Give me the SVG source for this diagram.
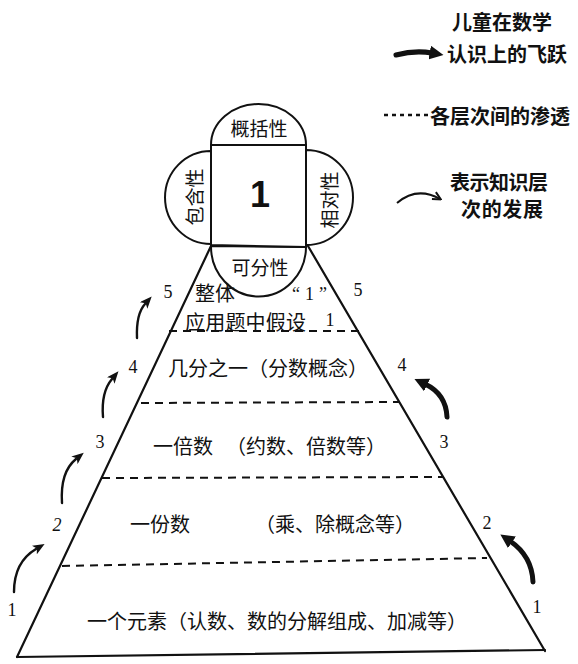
<svg xmlns="http://www.w3.org/2000/svg" width="578" height="664" viewBox="0 0 578 664">
<style>
.cjk{font-family:"Noto Sans CJK SC","Noto Sans CJK TC",sans-serif;fill:#111;}
.leg{font-weight:bold;font-size:20px;}
.row{font-size:20px;}
.num{font-family:"Liberation Serif",serif;font-size:18px;fill:#111;}
.edge{stroke:#111;stroke-width:2.2;fill:none;stroke-linecap:round;}
.lobe{stroke:#111;stroke-width:2;fill:#fff;}
.dash{stroke:#111;stroke-width:2;fill:none;stroke-dasharray:8 6;}
.thin{stroke:#111;stroke-width:2.4;fill:none;stroke-linecap:round;}
.thick{stroke:#111;stroke-width:5;fill:none;stroke-linecap:round;}
</style>
<defs>
<marker id="ah" viewBox="0 0 12 10" refX="2" refY="5" markerWidth="13" markerHeight="10" markerUnits="userSpaceOnUse" orient="auto">
<path d="M0,0 L12,5 L0,10 L3,5 Z" fill="#111"/>
</marker>
<marker id="ahb" viewBox="0 0 12 12" refX="2" refY="6" markerWidth="14" markerHeight="14" markerUnits="userSpaceOnUse" orient="auto">
<path d="M0,0 L12,6 L0,12 Z" fill="#111"/>
</marker>
<marker id="ahopen" viewBox="0 0 10 10" refX="8" refY="5" markerWidth="10" markerHeight="10" markerUnits="userSpaceOnUse" orient="auto">
<path d="M1,1 L9,5 L1,9" fill="none" stroke="#111" stroke-width="2"/>
</marker>
</defs>

<g id="legend">
<text class="cjk leg" x="452" y="21" dominant-baseline="central">儿童在数学</text>
<path class="thick" d="M396,55 Q415,50 432,53" marker-end="url(#ahb)"/>
<text class="cjk leg" x="447" y="53" font-size="20.5" dominant-baseline="central">认识上的飞跃</text>
<line x1="384" y1="115" x2="429" y2="115" stroke="#111" stroke-width="2.5" stroke-dasharray="4 4"/>
<text class="cjk leg" x="430" y="115" dominant-baseline="central">各层次间的渗透</text>
<path d="M397,203 Q417,186 440,199" fill="none" stroke="#111" stroke-width="2" marker-end="url(#ahopen)"/>
<text class="cjk leg" x="450" y="181" font-size="18.5" dominant-baseline="central" textLength="98">表示知识层</text>
<text class="cjk leg" x="461" y="208" font-size="18.5" dominant-baseline="central" textLength="82">次的发展</text>
</g>

<g id="pyramid">
<line class="edge" x1="211" y1="246" x2="17" y2="657"/>
<line class="edge" x1="308" y1="246" x2="545" y2="651"/>
<line class="edge" x1="17" y1="657" x2="545" y2="650" stroke-width="3"/>
<line class="dash" x1="169" y1="331" x2="361" y2="331"/>
<line class="dash" x1="141" y1="403" x2="400" y2="402"/>
<line class="dash" x1="102" y1="478" x2="443" y2="477"/>
<line class="dash" x1="62" y1="566" x2="487" y2="558"/>
</g>

<g id="flower">
<path class="lobe" d="M211,246 A47.5,50 0 0 0 306,247 Z"/>
<path class="lobe" d="M211,145 A47.5,41 0 0 1 306,145 Z"/>
<path class="lobe" d="M211,151 A46,46.5 0 0 0 211,244 Z"/>
<path class="lobe" d="M306,150 A47,47.5 0 0 1 306,245 Z"/>
<path class="lobe" d="M211,145 L306,145 L306,247 L211,245 Z"/>
<text class="cjk" x="259" y="127" font-size="19" text-anchor="middle" dominant-baseline="central">概括性</text>
<text class="cjk" x="260" y="266" font-size="19" text-anchor="middle" dominant-baseline="central">可分性</text>
<text class="cjk" x="0" y="0" font-size="19" text-anchor="middle" dominant-baseline="central" transform="translate(193,197) rotate(-90)">包含性</text>
<text class="cjk" x="0" y="0" font-size="19" text-anchor="middle" dominant-baseline="central" transform="translate(328,200) rotate(-90)">相对性</text>
<text x="260" y="194" font-family="Liberation Sans,sans-serif" font-weight="bold" font-size="36" text-anchor="middle" dominant-baseline="central" fill="#111">1</text>
</g>

<g id="layer5">
<text class="cjk row" x="195" y="292" font-size="19.5" dominant-baseline="central">整体</text>
<text class="num" x="292" y="294" font-size="20" letter-spacing="5" dominant-baseline="central">“1”</text>
<text class="cjk row" x="185" y="321" font-size="19.5" textLength="121" dominant-baseline="central">应用题中假设</text>
<text class="num" x="330" y="320" text-anchor="middle" dominant-baseline="central">1</text>
</g>
<g id="layer4">
<text class="cjk row" x="168" y="367" font-size="19.5" dominant-baseline="central">几分之一（分数概念）</text>
</g>
<g id="layer3">
<text class="cjk row" x="153" y="445" dominant-baseline="central">一倍数</text>
<text class="cjk row" x="226" y="445" dominant-baseline="central">（约数、倍数等）</text>
</g>
<g id="layer2">
<text class="cjk row" x="130" y="523" font-size="19" dominant-baseline="central">一份数</text>
<text class="cjk row" x="255" y="523" dominant-baseline="central">（乘、除概念等）</text>
</g>
<g id="layer1">
<text class="cjk row" x="87" y="620" dominant-baseline="central">一个元素（认数、数的分解组成、加减等）</text>
</g>

<g id="labels">
<text class="num" x="168" y="292" text-anchor="middle" dominant-baseline="central">5</text>
<text class="num" x="133" y="367" text-anchor="middle" dominant-baseline="central">4</text>
<text class="num" x="100" y="442" text-anchor="middle" dominant-baseline="central">3</text>
<text class="num" x="57" y="525" text-anchor="middle" dominant-baseline="central" font-style="italic">2</text>
<text class="num" x="12" y="610" text-anchor="middle" dominant-baseline="central">1</text>
<text class="num" x="358" y="290" text-anchor="middle" dominant-baseline="central">5</text>
<text class="num" x="402" y="365" text-anchor="middle" dominant-baseline="central">4</text>
<text class="num" x="444" y="442" text-anchor="middle" dominant-baseline="central">3</text>
<text class="num" x="487" y="523" text-anchor="middle" dominant-baseline="central">2</text>
<text class="num" x="537" y="607" text-anchor="middle" dominant-baseline="central">1</text>
</g>

<g id="connectors">
<path class="thin" d="M14,592 Q14,562 36,549" marker-end="url(#ah)"/>
<path class="thin" d="M62,503 Q60,472 76,459" marker-end="url(#ah)"/>
<path class="thin" d="M103,417 Q101,392 112,379" marker-end="url(#ah)"/>
<path class="thin" d="M137,338 Q136,314 145,304" marker-end="url(#ah)"/>
<path class="thick" d="M533,582 Q532,556 510,541" marker-end="url(#ahb)"/>
<path class="thick" d="M447,417 Q446,394 425,384" marker-end="url(#ahb)"/>
</g>
</svg>
